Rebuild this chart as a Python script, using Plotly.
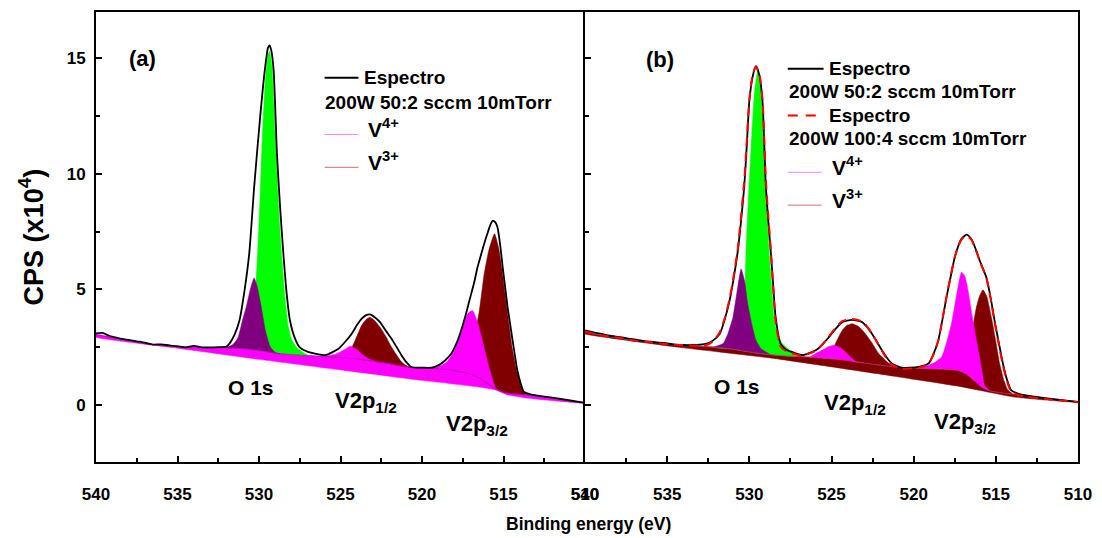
import plotly.graph_objects as go

# ---------------- data (binding energy in eV, CPS in units of 1e4) ----------------
# Panel (a): 200W 50:2 sccm 10mTorr
spec_a_E = [540, 539.6, 539.2, 538.8, 538.4, 538, 537.5, 537, 536.5, 536, 535.5, 535, 534.5, 534, 533.5, 533,
            532.5, 532, 531.8, 531.5, 531.2, 530.9, 530.6, 530.3, 529.95, 529.65, 529.45, 529.35, 529.25, 529.1,
            528.9, 528.7, 528.5, 528.3, 528.1, 527.8, 527.5, 527, 526.5, 525.93, 525.12, 524.7, 524.31, 524.0,
            523.7, 523.45, 523.19, 522.9, 522.58, 522.2, 521.87, 521.55, 521.26, 520.95, 520.65, 520.0, 519.4,
            519.0, 518.6, 518.2, 517.9, 517.6, 517.3, 517.1, 516.8, 516.6, 516.4, 516.2, 515.95, 515.8, 515.67,
            515.5, 515.37, 515.2, 515.05, 514.9, 514.75, 514.55, 514.35, 514.15, 513.95, 513.75, 513.5, 513, 512,
            511, 510]
spec_a_v = [3.10, 3.12, 3.00, 2.93, 2.86, 2.82, 2.76, 2.70, 2.62, 2.63, 2.58, 2.55, 2.50, 2.56, 2.50, 2.50,
            2.51, 2.53, 2.67, 3.05, 3.66, 4.90, 6.55, 9.40, 12.30, 14.45, 15.45, 15.56, 15.35, 14.45,
            10.90, 8.50, 6.50, 4.80, 3.66, 2.90, 2.50, 2.30, 2.22, 2.16, 2.44, 2.75, 3.09, 3.45,
            3.74, 3.88, 3.92, 3.80, 3.59, 3.20, 2.87, 2.50, 2.16, 1.85, 1.65, 1.62, 1.62,
            1.72, 1.92, 2.23, 2.65, 3.23, 3.95, 4.50, 5.30, 5.95, 6.45, 6.95, 7.50, 7.80, 7.97,
            7.90, 7.69, 6.90, 5.96, 5.10, 4.24, 3.30, 2.37, 1.50, 0.95, 0.57, 0.50, 0.42, 0.32,
            0.21, 0.10]

bg_a_E = [540, 539, 538, 537, 536, 535, 534, 533, 532, 531, 530, 529.5, 529, 528, 527, 526, 525, 524, 523, 522,
          521.5, 520.5, 519.5, 518.5, 517.5, 517, 516.5, 516, 515.5, 515, 514.5, 513.5, 512, 510]
bg_a_v = [3.05, 2.92, 2.78, 2.66, 2.58, 2.52, 2.49, 2.48, 2.48, 2.45, 2.37, 2.31, 2.25, 2.18, 2.14, 2.10, 2.06,
          2.00, 1.90, 1.80, 1.72, 1.62, 1.59, 1.54, 1.43, 1.34, 1.18, 0.95, 0.70, 0.56, 0.50, 0.44, 0.30, 0.10]
low_a_E = [540, 535, 530, 525, 520, 516.5, 515.5, 514.8, 513.5, 510]
low_a_v = [2.93, 2.46, 1.98, 1.52, 1.07, 0.78, 0.66, 0.45, 0.30, 0.08]

o_lat_a_E = [532.0, 531.0, 530.5, 530.2, 530.0, 529.8, 529.6, 529.45, 529.35, 529.2, 529.0, 528.8, 528.6, 528.4,
             528.2, 528.0, 527.7, 527.3, 527.0]
o_lat_a_v = [2.48, 2.55, 3.20, 5.20, 7.80, 11.50, 14.20, 15.15, 15.30, 14.60, 11.60, 8.60, 6.40, 4.60,
             3.40, 2.85, 2.50, 2.28, 2.15]
o_oh_a_E = [532.0, 531.6, 531.3, 531.0, 530.8, 530.5, 530.3, 530.1, 529.9, 529.6, 529.3, 529.0, 528.7]
o_oh_a_v = [2.48, 2.62, 2.90, 3.70, 4.20, 5.10, 5.50, 5.10, 4.40, 3.20, 2.50, 2.28, 2.21]
v4_12_a_E = [526.0, 525.3, 524.8, 524.4, 524.0, 523.6, 523.2, 522.8]
v4_12_a_v = [2.10, 2.20, 2.38, 2.55, 2.40, 2.15, 1.98, 1.87]
v3_12_a_E = [524.5, 524.1, 523.7, 523.4, 523.19, 522.9, 522.58, 522.2, 521.87, 521.26, 520.85, 520.5]
v3_12_a_v = [2.10, 2.80, 3.45, 3.72, 3.80, 3.65, 3.38, 2.95, 2.51, 1.87, 1.66, 1.62]
v4_32_a_E = [519.5, 519.0, 518.5, 518.0, 517.6, 517.2, 516.9, 516.6, 516.2, 515.8, 515.5, 515.2]
v4_32_a_v = [1.60, 1.66, 1.85, 2.37, 3.20, 3.95, 4.09, 3.60, 2.50, 1.40, 0.75, 0.60]
v3_32_a_E = [518.0, 517.5, 517.0, 516.5, 516.2, 515.9, 515.55, 515.3, 515.1, 514.85, 514.45, 514.15, 513.75, 513.5]
v3_32_a_v = [1.50, 1.70, 2.40, 4.00, 5.60, 6.70, 7.41, 6.80, 5.90, 4.50, 2.40, 1.37, 0.57, 0.46]

# Panel (b): 200W 50:2 (black) and 200W 100:4 (red dashed)
spec_b_E = [540, 539.5, 539, 538.5, 538, 537.5, 537, 536.5, 536, 535.5, 535, 534.5, 534, 533.5, 533, 532.6,
            532.2, 531.8, 531.5, 531.2, 530.95, 530.7, 530.5, 530.3, 530.15, 530.0, 529.8, 529.6, 529.4, 529.2,
            529.0, 528.85, 528.7, 528.55, 528.4, 528.1, 527.8, 527.4, 526.77, 525.96, 525.55, 525.16, 524.75,
            524.35, 523.75, 523.14, 522.84, 522.54, 522.23, 521.93, 521.63, 521.33, 520.72, 519.71, 519.1,
            518.8, 518.5, 518.25, 518.0, 517.75, 517.5, 517.3, 517.1, 516.79, 516.49, 516.2, 515.98, 515.78,
            515.58, 515.33, 515.08, 514.82, 514.57, 514.32, 514.07, 513.66, 513.26, 512, 511, 510]
spec_b_v = [3.23, 3.15, 3.08, 3.00, 2.95, 2.90, 2.84, 2.78, 2.74, 2.70, 2.67, 2.62, 2.60, 2.60, 2.62, 2.66,
            2.80, 3.09, 3.70, 4.53, 5.50, 6.68, 8.00, 9.55, 11.30, 13.15, 14.20, 14.66, 14.30, 13.15,
            9.55, 8.00, 6.68, 5.20, 3.80, 2.66, 2.42, 2.30, 2.16, 2.37, 2.62, 2.94, 3.30,
            3.59, 3.69, 3.59, 3.38, 3.09, 2.73, 2.37, 2.05, 1.80, 1.62, 1.65, 1.80,
            2.20, 2.80, 3.70, 4.67, 5.55, 6.39, 6.85, 7.18, 7.37, 7.18, 6.70, 6.25, 5.90,
            5.53, 4.70, 3.66, 2.70, 1.80, 1.10, 0.65, 0.50, 0.43, 0.30, 0.22, 0.14]
spec2_b_v = [3.18, 3.10, 3.02, 2.96, 2.92, 2.86, 2.80, 2.75, 2.72, 2.67, 2.64, 2.61, 2.60, 2.58, 2.58, 2.60,
             2.76, 3.15, 3.75, 4.60, 5.60, 6.80, 8.20, 9.80, 11.50, 13.20, 14.30, 14.62, 14.35, 13.20,
             9.80, 8.20, 6.80, 5.10, 3.60, 2.55, 2.35, 2.24, 2.14, 2.35, 2.63, 2.97, 3.34,
             3.63, 3.72, 3.62, 3.40, 3.10, 2.72, 2.34, 2.00, 1.75, 1.58, 1.62, 1.78,
             2.18, 2.80, 3.72, 4.70, 5.58, 6.40, 6.85, 7.15, 7.33, 7.15, 6.68, 6.22, 5.88,
             5.50, 4.65, 3.60, 2.62, 1.72, 1.02, 0.58, 0.44, 0.38, 0.27, 0.20, 0.12]

bg_b_E = [540, 539, 538, 537, 536, 535, 534, 533, 532, 531, 530, 529, 528, 527, 526, 525, 524, 523.5, 523, 522,
          521, 520, 519, 518, 517.3, 516.8, 516.3, 515.8, 515.3, 514.5, 513.5, 512, 510]
bg_b_v = [3.15, 3.02, 2.90, 2.80, 2.72, 2.65, 2.58, 2.55, 2.50, 2.42, 2.30, 2.20, 2.14, 2.10, 2.06, 2.00, 1.93,
          1.86, 1.82, 1.72, 1.63, 1.60, 1.57, 1.55, 1.50, 1.35, 1.05, 0.75, 0.60, 0.52, 0.44, 0.30, 0.14]
low_b_E = [540, 534.4, 528.4, 522.3, 517.3, 516, 514, 512, 510]
low_b_v = [3.08, 2.51, 2.01, 1.37, 0.82, 0.64, 0.36, 0.22, 0.12]

o_lat_b_E = [532.0, 531.0, 530.6, 530.35, 530.2, 530.05, 529.9, 529.7, 529.5, 529.3, 529.1, 528.95, 528.8, 528.65,
             528.5, 528.3, 528.0, 527.6, 527.2]
o_lat_b_v = [2.48, 2.60, 3.00, 3.80, 6.68, 9.00, 11.00, 13.40, 14.44, 13.60, 11.00, 8.80, 6.68, 5.20,
             3.80, 3.10, 2.66, 2.40, 2.12]
o_oh_b_E = [532.2, 531.6, 531.3, 531.0, 530.75, 530.5, 530.3, 530.1, 529.85, 529.6, 529.3, 529.0, 528.7]
o_oh_b_v = [2.50, 2.66, 3.10, 3.80, 4.90, 5.89, 5.40, 4.38, 3.50, 2.80, 2.45, 2.30, 2.18]
v4_12_b_E = [526.3, 525.96, 525.5, 525.2, 524.86, 524.5, 524.15, 523.8, 523.5, 523.1]
v4_12_b_v = [2.08, 2.23, 2.40, 2.52, 2.59, 2.50, 2.30, 2.05, 1.88, 1.84]
v3_12_b_E = [525.0, 524.76, 524.35, 524.05, 523.75, 523.35, 522.94, 522.54, 522.13, 521.73, 521.33, 520.9, 520.6]
v3_12_b_v = [2.10, 2.66, 3.23, 3.45, 3.52, 3.40, 3.09, 2.70, 2.23, 1.95, 1.70, 1.63, 1.61]
v4_32_b_E = [519.6, 519.1, 518.7, 518.3, 518.0, 517.7, 517.4, 517.09, 516.9, 516.69, 516.45, 516.18, 515.9,
             515.68, 515.4]
v4_32_b_v = [1.60, 1.72, 1.85, 2.08, 2.70, 3.52, 4.70, 5.75, 5.60, 4.96, 3.90, 2.80, 1.70, 0.85, 0.63]
v3_32_b_E = [517.3, 516.9, 516.5, 516.18, 516.0, 515.78, 515.55, 515.27, 515.0, 514.77, 514.5, 514.27, 514.0]
v3_32_b_v = [1.50, 1.90, 3.00, 4.24, 4.70, 4.99, 4.70, 3.80, 2.75, 1.80, 1.05, 0.65, 0.50]

x_ticks = [540, 535, 530, 525, 520, 515, 510]
y_ticks = [0, 5, 10, 15]

legend_a = ["Espectro", "200W 50:2 sccm 10mTorr", "V<sup>4+</sup>", "V<sup>3+</sup>"]
legend_b = ["Espectro", "200W 50:2 sccm 10mTorr", "Espectro", "200W 100:4 sccm 10mTorr",
            "V<sup>4+</sup>", "V<sup>3+</sup>"]

# ---------------- styling ----------------
FONT = "Liberation Sans, Arial, sans-serif"
GREEN, PURPLE, MAROON, MAGENTA = "#00ff00", "#800080", "#800000", "#ff00ff"
W, H = 1102, 538
ML, MR, MT, MB = 96, 18, 10, 76
PW, PH = W - ML - MR, H - MT - MB
DIV = (588 - ML) / PW


def px(x):
    return (x - ML) / PW


def py(y):
    return (H - MB - y) / PH


def poly(cE, cv, bE, bv):
    lo, hi = min(cE), max(cE)
    inner = [(e, v) for e, v in zip(bE, bv) if lo < e < hi][::-1]
    xs = list(cE) + [p[0] for p in inner] + [cE[0]]
    ys = list(cv) + [p[1] for p in inner] + [cv[0]]
    return xs, ys


def band(bE, bv, lE, lv):
    return list(bE) + list(lE)[::-1] + [bE[0]], list(bv) + list(lv)[::-1] + [bv[0]]


fig = go.Figure()


def fill(xs, ys, color, xa, ya, smooth=0.5):
    fig.add_trace(go.Scatter(x=xs, y=ys, mode="lines", fill="toself", fillcolor=color,
                             line=dict(color=color, width=0.5, shape="spline", smoothing=smooth),
                             xaxis=xa, yaxis=ya, hoverinfo="skip", showlegend=False))


def line(xs, ys, color, width, xa, ya, dash="solid", smooth=0.6):
    fig.add_trace(go.Scatter(x=xs, y=ys, mode="lines",
                             line=dict(color=color, width=width, dash=dash, shape="spline", smoothing=smooth),
                             xaxis=xa, yaxis=ya, hoverinfo="skip", showlegend=False))


# panel (a)
bx, by = band(bg_a_E, bg_a_v, low_a_E, low_a_v)
fill(bx, by, MAGENTA, "x", "y", smooth=0.3)
for cE, cv, col in [(o_lat_a_E, o_lat_a_v, GREEN), (o_oh_a_E, o_oh_a_v, PURPLE),
                    (v3_12_a_E, v3_12_a_v, MAROON), (v3_32_a_E, v3_32_a_v, MAROON),
                    (v4_12_a_E, v4_12_a_v, MAGENTA), (v4_32_a_E, v4_32_a_v, MAGENTA)]:
    xs, ys = poly(cE, cv, bg_a_E, bg_a_v)
    fill(xs, ys, col, "x", "y")
line(bg_a_E, bg_a_v, "#b000b0", 0.8, "x", "y", smooth=0.3)
line(spec_a_E, spec_a_v, "black", 1.8, "x", "y")

# panel (b)
bx, by = band(bg_b_E, bg_b_v, low_b_E, low_b_v)
fill(bx, by, MAROON, "x2", "y2", smooth=0.3)
for cE, cv, col in [(o_lat_b_E, o_lat_b_v, GREEN), (o_oh_b_E, o_oh_b_v, PURPLE),
                    (v3_12_b_E, v3_12_b_v, MAROON), (v3_32_b_E, v3_32_b_v, MAROON),
                    (v4_12_b_E, v4_12_b_v, MAGENTA), (v4_32_b_E, v4_32_b_v, MAGENTA)]:
    xs, ys = poly(cE, cv, bg_b_E, bg_b_v)
    fill(xs, ys, col, "x2", "y2")
line(bg_b_E, bg_b_v, "#c03070", 0.8, "x2", "y2", smooth=0.3)
line(spec_b_E, spec_b_v, "black", 1.8, "x2", "y2")
line(spec_b_E, spec2_b_v, "#ff0000", 2, "x2", "y2", dash="9px,6px")

tickfont = dict(family=FONT, size=17, color="black", weight="bold")
xcommon = dict(range=[540, 510], tickmode="array", tickvals=x_ticks, ticks="inside", ticklen=6, tickwidth=2,
               tickcolor="black", showline=True, linecolor="black", linewidth=2, mirror=True,
               showgrid=False, zeroline=False, tickfont=tickfont, ticklabelstandoff=16,
               minor=dict(tickvals=[537.5, 532.5, 527.5, 522.5, 517.5, 512.5], ticks="inside", ticklen=4,
                          tickwidth=2, tickcolor="black"))
ycommon = dict(range=[-2.46, 17.0], tickmode="array", tickvals=y_ticks, ticks="inside", ticklen=6, tickwidth=2,
               tickcolor="black", showline=True, linecolor="black", linewidth=2,
               showgrid=False, zeroline=False, tickfont=tickfont,
               minor=dict(tickvals=[-2.5, 2.5, 7.5, 12.5], ticks="inside", ticklen=4, tickwidth=2,
                          tickcolor="black"))

fig.update_layout(
    width=W, height=H, margin=dict(l=ML, r=MR, t=MT, b=MB),
    paper_bgcolor="white", plot_bgcolor="white", showlegend=False,
    xaxis=dict(domain=[0, DIV], anchor="y", **xcommon),
    xaxis2=dict(domain=[DIV, 1], anchor="y2", **xcommon),
    yaxis=dict(domain=[0, 1], anchor="x", ticklabelstandoff=5, mirror=False, **ycommon),
    yaxis2=dict(domain=[0, 1], anchor="x2", showticklabels=False, mirror=True, **ycommon),
)

ann = []
shapes = []


def text(x, y, s, size, anchor="left"):
    ann.append(dict(x=px(x), y=py(y), xref="paper", yref="paper", text=s, showarrow=False,
                    xanchor=anchor, yanchor="middle", font=dict(family=FONT, size=size, color="black",
                                                                 weight="bold")))


def sample(x0, x1, y, color, width, dash="solid"):
    shapes.append(dict(type="line", xref="paper", yref="paper", x0=px(x0), x1=px(x1), y0=py(y), y1=py(y),
                       line=dict(color=color, width=width, dash=dash)))


LF = 19
VF = 21
# legend (a)
sample(326, 360, 76, "black", 2)
text(364, 76, legend_a[0], LF)
text(324, 101, legend_a[1], LF)
sample(326, 360, 133, "#ff80ff", 1)
text(368, 127, legend_a[2], VF)
sample(326, 360, 166, "#d07070", 1)
text(368, 160, legend_a[3], VF)
# legend (b)
sample(792, 828, 67, "black", 2)
text(831, 67, legend_b[0], LF)
text(791, 90, legend_b[1], LF)
sample(792, 828, 114, "#ff0000", 2, dash="10px,8px")
text(831, 114, legend_b[2], LF)
text(791, 137, legend_b[3], LF)
sample(792, 826, 171, "#ff80ff", 1)
text(834, 165, legend_b[4], VF)
sample(792, 826, 204, "#d07070", 1)
text(834, 198, legend_b[5], VF)

# panel labels
text(127, 57, "(a)", 22)
text(647, 58, "(b)", 22)
# peak labels
text(252, 387, "O 1s", 21, anchor="center")
text(334, 402, "V2p<sub>1/2</sub>", 22)
text(446, 425, "V2p<sub>3/2</sub>", 22)
text(741, 386, "O 1s", 21, anchor="center")
text(826, 404, "V2p<sub>1/2</sub>", 22)
text(937, 423, "V2p<sub>3/2</sub>", 22)

# axis titles
ann.append(dict(x=px(31), y=py(236), xref="paper", yref="paper", text="CPS (x10<sup>4</sup>)", showarrow=False,
                textangle=-90, xanchor="center", yanchor="middle",
                font=dict(family=FONT, size=27, color="black", weight="bold")))
text(592, 524, "Binding energy (eV)", 17.5, anchor="center")

fig.update_layout(annotations=ann, shapes=shapes)
fig.write_html("out.html")
